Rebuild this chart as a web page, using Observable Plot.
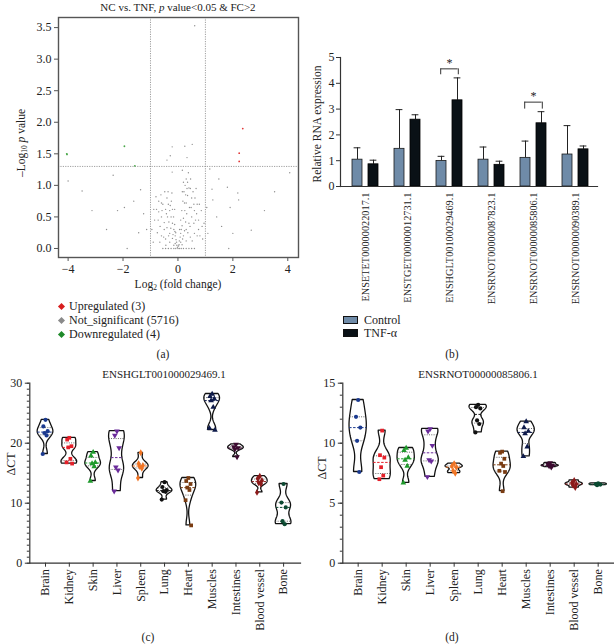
<!DOCTYPE html>
<html><head><meta charset="utf-8">
<script src="https://cdn.jsdelivr.net/npm/d3@7"></script>
<script src="https://cdn.jsdelivr.net/npm/@observablehq/plot@0.6"></script>
<style>
body{margin:0;background:#fff;font-family:"Liberation Serif","Times New Roman",serif;}
#root{position:relative;width:614px;height:644px;overflow:hidden;background:#fff;}
.t{position:absolute;font-size:11px;color:#222;white-space:nowrap;line-height:1;}
.t sub{font-size:7.5px;vertical-align:-2px;}
.sw{display:inline-block;}
</style></head><body><div id="root"></div>
<script>
// ---------- Panel (a): volcano ----------
const volcanoTitle = "NC vs. TNF, <i>p</i> value&lt;0.05 &amp; FC&gt;2";
const volcanoXTicks = [-4, -2, 0, 2, 4];
const volcanoYTicks = [0, 0.5, 1, 1.5, 2, 2.5, 3, 3.5];
const fcThresholds = [-1, 1];
const pThreshold = [1.3];
const upPts = [[2.36, 1.90], [2.23, 1.51], [2.23, 1.38]];
const downPts = [[-4.04, 1.49], [-1.95, 1.62], [-1.57, 1.31], [-4.05, 1.50]];
const nsPts = [
  [0.61,3.53],[-4.0,1.07],[-3.49,0.91],[-3.13,0.60],[-2.60,0.30],[-1.95,0.65],[-2.2,0.6],[-1.85,0.0],
  [-1.61,0.75],[-1.36,0.93],[-2.36,1.16],[-1.25,0.55],[-1.43,0.25],[-1.14,0.3],[-0.21,1.61],[0.25,1.62],
  [0.52,1.65],[-0.21,1.21],[-0.28,1.47],[-0.40,1.4],[0.16,1.24],[0.33,1.44],[4.07,1.2],[3.52,0.90],
  [3.15,0.60],[2.67,0.29],[1.85,0.0],[1.9,0.65],[2.18,0.88],[2.21,0.77],[1.49,1.10],[1.24,0.94],
  [1.16,1.26],[1.80,0.97],[1.27,0.77],[1.05,0.65],[1.41,0.5],[1.59,0.35],[1.09,0.24],[2.0,0.24],
  [-0.55,0],[-0.45,0],[-0.35,0],[-0.25,0],[-0.15,0],[-0.08,0],[0.05,0],[0.12,0],[0.2,0],[0.3,0],[0.4,0],[0.5,0],[0.6,0],
  [-0.05,0.1],[-0.1,0.2],[-0.15,0.3],[-0.2,0.4],[-0.25,0.5],[-0.3,0.6],[-0.35,0.7],[-0.4,0.8],
  [-0.1,0.08],[-0.2,0.16],[-0.3,0.24],[-0.4,0.33],[-0.5,0.41],[-0.6,0.5],[-0.7,0.58],
  [-0.15,0.05],[-0.3,0.1],[-0.45,0.15],[-0.6,0.2],[-0.75,0.25],
  [-0.08,0.25],[-0.12,0.38],[-0.16,0.5],[-0.2,0.62],[-0.24,0.75],
  [-0.55,0.7],[-0.62,0.85],[-0.48,0.9],[-0.7,0.75],[-0.78,0.62],[-0.65,0.35],[-0.5,0.3],[-0.42,0.55],[-0.33,0.42],[-0.58,0.6],
  [0.05,0.12],[0.1,0.24],[0.15,0.36],[0.2,0.48],[0.25,0.6],[0.3,0.72],[0.35,0.84],[0.4,0.96],
  [0.1,0.1],[0.2,0.2],[0.3,0.3],[0.4,0.4],[0.5,0.5],[0.6,0.6],[0.7,0.7],
  [0.15,0.06],[0.3,0.12],[0.45,0.18],[0.6,0.24],[0.75,0.3],
  [0.06,0.3],[0.1,0.45],[0.14,0.6],[0.18,0.75],[0.22,0.9],[0.26,1.0],
  [0.35,1.05],[0.45,0.95],[0.5,0.8],[0.55,0.9],[0.62,0.8],[0.68,0.55],[0.75,0.45],[0.42,0.65],[0.28,0.85],
  [0.32,0.55],[0.58,0.4],[0.8,0.2],[0.3,1.1],[0.38,1.2],
  [-0.9,0.1],[-0.85,0.45],[0.9,0.15],[0.85,0.6],[-0.95,0.3],[0.95,0.4],[-0.02,0.02],[0.02,0.04],[0.0,0.0],
  [-0.04,0.05],[-0.07,0.14],[-0.11,0.27],[-0.18,0.22],[-0.26,0.32],[-0.34,0.2],[-0.38,0.5],[-0.45,0.62],
  [-0.52,0.18],[-0.66,0.1],[-0.72,0.45],[-0.28,0.68],[-0.36,0.9],[-0.6,0.72],[-0.8,0.82],[-0.44,0.05],
  [0.04,0.06],[0.08,0.18],[0.12,0.3],[0.17,0.15],[0.24,0.28],[0.28,0.42],[0.36,0.25],[0.44,0.35],
  [0.48,0.65],[0.52,0.12],[0.64,0.45],[0.7,0.2],[0.24,0.72],[0.33,0.95],[0.46,1.1],[0.58,0.7],
  [0.16,0.9],[0.2,1.05],[0.66,0.95],[0.78,0.7],[0.88,0.35],[-0.88,0.62],[-0.22,0.88],[-0.12,0.62]
];
const legendA = ["Upregulated (3)", "Not_significant (5716)", "Downregulated (4)"];
const legendAColors = ["#d81e1e", "#8a8a8a", "#1f8a2a"];

// ---------- Panel (b): bars ----------
const genes = ["ENSETET00000022017.1","ENSTGET00000012731.1","ENSHGLT00100029469.1","ENSRNOT00000087823.1","ENSRNOT00000085806.1","ENSRNOT00000090389.1"];
const ctrlMean = [1.04, 1.46, 0.99, 1.04, 1.11, 1.24];
const ctrlErr  = [1.50, 2.98, 1.17, 1.53, 1.76, 2.36];
const tnfMean  = [0.86, 2.59, 3.34, 0.84, 2.45, 1.44];
const tnfErr   = [1.02, 2.78, 4.21, 0.98, 2.90, 1.57];
const sigGenes = [genes[2], genes[4]];
const sigBracket = [4.56, 3.27];
const sigFoot = [4.33, 3.0];
const barYTicks = [0, 1, 2, 3, 4, 5];
const groups = ["Control", "TNF-α"];
const groupColors = ["#6f8ba8", "#0a1116"];

// ---------- Panels (c), (d): violins ----------
const tissues = ["Brain","Kidney","Skin","Liver","Spleen","Lung","Heart","Muscles","Intestines","Blood vessel","Bone"];
const tissueColors = ["#1b3a8f","#e5202a","#1f9a2c","#6a2b9a","#f07424","#111111","#7a3c12","#0e1a4a","#3c0b30","#8c1a1a","#0b4a32"];
const titleC = "ENSHGLT001000029469.1";
const titleD = "ENSRNOT00000085806.1";
const ctC = [
  [23.9, 22.8, 22.0, 21.7, 21.3, 18.2],
  [20.9, 20.6, 19.5, 19.3, 17.4, 16.8, 16.6],
  [18.5, 17.9, 16.8, 16.6, 16.1, 13.7],
  [22.0, 21.3, 19.2, 16.0, 15.5, 12.0],
  [18.4, 16.6, 16.3, 16.1, 15.8, 14.2],
  [13.5, 12.7, 12.2, 12.0, 11.9, 10.6],
  [14.2, 13.7, 13.2, 12.6, 12.2, 10.5, 6.3],
  [28.2, 27.8, 27.4, 27.1, 26.0, 22.5, 22.2],
  [19.8, 19.4, 19.2, 19.0, 17.7],
  [14.5, 14.1, 13.8, 13.4, 13.2, 11.8],
  [13.2, 10.1, 9.3, 7.0, 6.5]
];
const ctD = [
  [13.6, 12.2, 11.3, 10.2, 7.6],
  [11.05, 9.0, 8.8, 8.0, 7.3, 7.0],
  [9.6, 9.4, 8.8, 8.6, 8.1, 6.7],
  [11.2, 11.0, 9.8, 8.6, 8.5, 7.2],
  [8.3, 8.1, 8.0, 7.7, 7.5],
  [13.2, 13.0, 12.9, 11.9, 11.6, 10.9],
  [9.3, 9.2, 8.7, 8.3, 8.1, 7.7, 7.6, 6.0],
  [11.8, 11.3, 11.0, 10.8, 9.7, 8.9],
  [8.35, 8.25, 8.15, 8.1, 8.0],
  [6.9, 6.7, 6.6, 6.5, 6.3],
  [6.65, 6.6, 6.55, 6.5]
];
const yTicksC = [0, 10, 20, 30];
const yTicksD = [0, 5, 10, 15];

// ================= drawing =================
const root = document.getElementById("root");
const FONT = '"Liberation Serif","Times New Roman",serif';
const baseStyle = {fontFamily: FONT, fontSize: "12px", color: "#222", background: "transparent"};
function place(svg, left, top) {
  svg.style.position = "absolute"; svg.style.left = left + "px"; svg.style.top = top + "px";
  root.appendChild(svg);
}
function label(html, x, y, opts = {}) {
  const d = document.createElement("div");
  d.className = "t"; d.innerHTML = html;
  d.style.left = x + "px"; d.style.top = y + "px";
  d.style.transform = "translate(-50%,-50%)" + (opts.rotate ? ` rotate(${opts.rotate}deg)` : "");
  if (opts.size) d.style.fontSize = opts.size + "px";
  root.appendChild(d);
  return d;
}

// Panel (a)
const volcano = Plot.plot({
  width: 300, height: 300,
  marginLeft: 58, marginRight: 2, marginTop: 17, marginBottom: 43,
  x: {domain: [-4.35, 4.39]},
  y: {domain: [-0.143, 3.66]},
  style: baseStyle,
  marks: [
    Plot.ruleX(fcThresholds, {stroke: "#888", strokeWidth: 0.8, strokeDasharray: "1.2,1.2"}),
    Plot.ruleY(pThreshold, {stroke: "#888", strokeWidth: 0.8, strokeDasharray: "1.2,1.2"}),
    Plot.dot(nsPts, {x: d => d[0], y: d => d[1], r: 0.7, fill: "#8f8f8f", stroke: null}),
    Plot.dot(upPts, {x: d => d[0], y: d => d[1], r: 0.9, fill: "#e23a3a", stroke: null}),
    Plot.dot(downPts, {x: d => d[0], y: d => d[1], r: 0.9, fill: "#4aa84a", stroke: null}),
    Plot.frame({stroke: "#555", strokeWidth: 1.4}),
    Plot.axisX({ticks: volcanoXTicks, tickSize: 4, tickPadding: 3, label: null, stroke: "#555"}),
    Plot.axisY({ticks: volcanoYTicks, tickSize: 4, tickPadding: 3, tickFormat: d3.format(".1f"), label: null, stroke: "#555"})
  ]
});
place(volcano, 0, 0);

// Panel (b)
const barData = genes.map((g, i) => ({gene: g, ctrl: ctrlMean[i], ctrlE: ctrlErr[i], tnf: tnfMean[i], tnfE: tnfErr[i]}));
const sigData = sigGenes.map((g, i) => ({gene: g, top: sigBracket[i], foot: sigFoot[i]}));
const bars = Plot.plot({
  width: 314, height: 330,
  marginLeft: 40, marginRight: 17, marginTop: 57, marginBottom: 144,
  x: {domain: genes, range: [42.8, 297.2], padding: 0},
  y: {domain: [0, 5]},
  style: baseStyle,
  marks: [
    Plot.ruleX(barData, {x: "gene", y1: "ctrl", y2: "ctrlE", dx: -8, stroke: "#222", strokeWidth: 1}),
    Plot.tickY(barData, {x: "gene", y: "ctrlE", dx: -8, insetLeft: 17.6, insetRight: 17.6, stroke: "#222", strokeWidth: 1}),
    Plot.ruleX(barData, {x: "gene", y1: "tnf", y2: "tnfE", dx: 8, stroke: "#222", strokeWidth: 1}),
    Plot.tickY(barData, {x: "gene", y: "tnfE", dx: 8, insetLeft: 17.6, insetRight: 17.6, stroke: "#222", strokeWidth: 1}),
    Plot.barY(barData, {x: "gene", y: "ctrl", dx: -8, insetLeft: 16, insetRight: 16, fill: groupColors[0], stroke: "#1a1a1a", strokeWidth: 0.8}),
    Plot.barY(barData, {x: "gene", y: "tnf", dx: 8, insetLeft: 16, insetRight: 16, fill: groupColors[1], stroke: "#000", strokeWidth: 0.8}),
    Plot.tickY(sigData, {x: "gene", y: "top", insetLeft: 12.4, insetRight: 12.4, stroke: "#333", strokeWidth: 1}),
    Plot.ruleX(sigData, {x: "gene", y1: "foot", y2: "top", dx: -8.8, stroke: "#333", strokeWidth: 1}),
    Plot.ruleX(sigData, {x: "gene", y1: "foot", y2: "top", dx: 8.8, stroke: "#333", strokeWidth: 1}),
    Plot.text(sigData, {x: "gene", y: "top", text: () => "*", dy: -6, fontSize: 12, fill: "#222"}),
    Plot.frame({anchor: "left", stroke: "#333", strokeWidth: 1.2}),
    Plot.frame({anchor: "bottom", stroke: "#333", strokeWidth: 1.2}),
    Plot.axisY({ticks: barYTicks, tickSize: 4, tickPadding: 2, tickFormat: d3.format("d"), label: null, stroke: "#333"}),
    Plot.axisX({tickSize: 0, tickPadding: 6, tickRotate: -90, textAnchor: "end", label: null, fontSize: 10.3})
  ]
});
place(bars, 300, 0);

// Violin helpers
const triDown = {
  draw(ctx, size) {
    const a = Math.sqrt(4 * size / Math.sqrt(3)), h = a * Math.sqrt(3) / 2;
    ctx.moveTo(0, 2 * h / 3); ctx.lineTo(a / 2, -h / 3); ctx.lineTo(-a / 2, -h / 3); ctx.closePath();
  }
};
const tissueSymbols = ["circle","square","triangle",triDown,"diamond","circle","square","triangle",triDown,"diamond","circle"];
const jit = [0, -0.1, 0.1, -0.05, 0.05, -0.13, 0.13, 0.02];

function buildViolin(values, maxHalf) {
  const outline = [], meds = [], quarts = [], dots = [];
  values.forEach((vals, i) => {
    const lo = d3.min(vals), hi = d3.max(vals);
    const h = Math.max((hi - lo) * 0.15, 0.04);
    const dens = y => d3.sum(vals, v => Math.exp(-0.5 * ((y - v) / h) ** 2));
    const n = 48;
    const ys = d3.range(n + 1).map(k => lo + (hi - lo) * k / n);
    const m = d3.max(ys, dens);
    const w = y => dens(y) / m * maxHalf;
    ys.forEach(y => outline.push({i, y, w: w(y)}));
    const sorted = vals.slice().sort(d3.ascending);
    const med = d3.median(sorted);
    meds.push({i, y: med, w: w(med)});
    [0.25, 0.75].forEach(q => { const y = d3.quantile(sorted, q); quarts.push({i, y, w: w(y)}); });
    vals.forEach((v, k) => dots.push({i, y: v, k}));
  });
  return {outline, meds, quarts, dots};
}

function violinPlot(values, opts) {
  const V = buildViolin(values, opts.maxHalf);
  return Plot.plot({
    width: opts.width, height: opts.height,
    marginLeft: opts.marginLeft, marginRight: opts.marginRight, marginTop: opts.marginTop, marginBottom: opts.height - opts.marginTop - opts.plotH,
    x: {domain: opts.xDomain},
    y: {domain: opts.yDomain},
    style: baseStyle,
    marks: [
      Plot.areaX(V.outline, {y: "y", x1: d => d.i - d.w, x2: d => d.i + d.w, z: "i", fill: "white", stroke: "#111", strokeWidth: 1.3}),
      Plot.ruleY(V.quarts, {y: "y", x1: d => d.i - d.w, x2: d => d.i + d.w, stroke: "#555", strokeWidth: 0.9, strokeDasharray: "1,1.3"}),
      Plot.ruleY(V.meds, {y: "y", x1: d => d.i - d.w, x2: d => d.i + d.w, stroke: d => tissueColors[d.i], strokeWidth: 1, strokeDasharray: "2.5,1.5"}),
      ...tissues.map((t, ti) => Plot.dot(V.dots.filter(d => d.i === ti), {
        x: d => d.i + jit[d.k % jit.length] * opts.jitScale, y: "y", r: 2.1,
        symbol: () => tissueSymbols[ti], fill: tissueColors[ti], stroke: null
      })),
      Plot.frame({anchor: "left", stroke: "#333", strokeWidth: 1.2}),
      Plot.frame({anchor: "bottom", stroke: "#333", strokeWidth: 1.2}),
      Plot.axisY({ticks: opts.minorTicks, tickSize: 2.5, tickFormat: () => "", label: null, stroke: "#333"}),
      Plot.axisY({ticks: opts.yTicks, tickSize: 4.5, tickPadding: 3, label: null, stroke: "#333"}),
      Plot.axisX({ticks: d3.range(tissues.length), tickFormat: i => tissues[i], tickSize: 4, tickPadding: 2, tickRotate: -90, textAnchor: "end", label: null, stroke: "#333"})
    ]
  });
}

const plotC = violinPlot(ctC, {
  width: 305, height: 270, marginLeft: 29.3, marginRight: 5, marginTop: 22.7, plotH: 180,
  xDomain: [-0.66, 10.71], yDomain: [0, 30], yTicks: yTicksC, minorTicks: d3.range(0, 31),
  maxHalf: 0.33, jitScale: 0.9
});
place(plotC, 0, 360);

const plotD = violinPlot(ctD, {
  width: 309, height: 270, marginLeft: 37.3, marginRight: 0, marginTop: 22.7, plotH: 180,
  xDomain: [-0.64, 10.68], yDomain: [0, 15], yTicks: yTicksD, minorTicks: d3.range(0, 16),
  maxHalf: 0.36, jitScale: 0.9
});
place(plotD, 305, 360);

// ---------- text and legends ----------
label(volcanoTitle, 178, 7);
label("Log<sub>2</sub> (fold change)", 178, 285, {size: 11.5});
label("–Log<sub>10</sub> <i>p</i> value", 22, 143, {rotate: -90, size: 11.5});
legendA.forEach((t, i) => {
  const d = label(`<span class="sw" style="width:5px;height:5px;background:${legendAColors[i]};transform:rotate(45deg);margin-right:5px;vertical-align:1px"></span>${t}`, 0, 306 + i * 14, {size: 12});
  d.style.transform = "translate(0,-50%)"; d.style.left = "59px";
});
label("Relative RNA expression", 318, 124, {rotate: -90, size: 11.5});
groups.forEach((g, i) => {
  const d = label(`<span class="sw" style="width:13px;height:6px;background:${groupColors[i]};border:1px solid #111;margin-right:6px;vertical-align:0px"></span>${g}`, 0, 320 + i * 12.5, {size: 12});
  d.style.transform = "translate(0,-50%)"; d.style.left = "343px";
});
label("(a)", 163, 355, {size: 11.5});
label("(b)", 452, 355, {size: 11.5});
label(titleC, 164, 374);
label(titleD, 478, 374);
label("ΔCT", 11, 464, {rotate: -90, size: 12});
label("ΔCT", 322, 468, {rotate: -90, size: 12});
label("(c)", 148, 638, {size: 11.5});
label("(d)", 452, 638, {size: 11.5});
</script>
</body></html>
